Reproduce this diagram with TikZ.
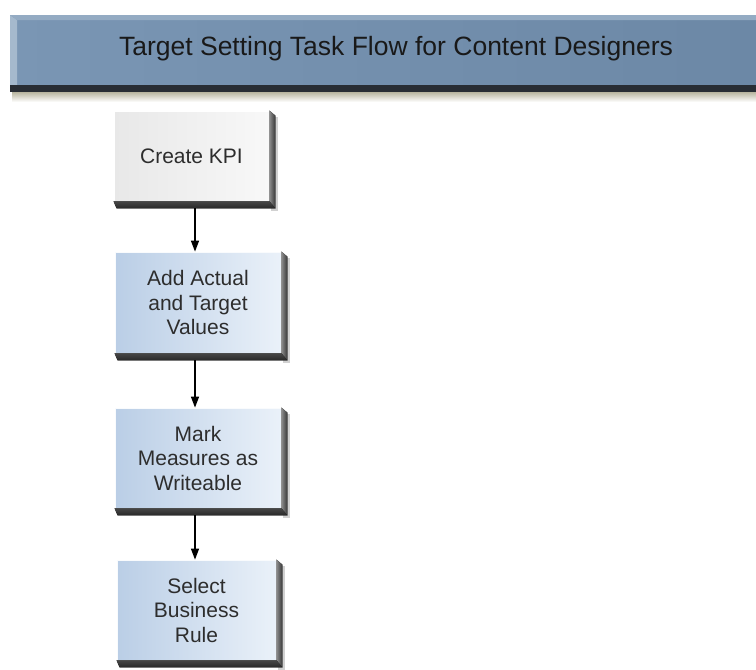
\documentclass[tikz,border=0pt]{standalone}
\usepackage{fontspec}
\setmainfont{Liberation Sans}
\usetikzlibrary{calc,arrows.meta}
\definecolor{bannerL}{RGB}{122,150,180}
\definecolor{bannerR}{RGB}{108,136,166}
\definecolor{bannerEdge}{RGB}{165,185,205}
\definecolor{bandDark}{RGB}{40,45,52}
\definecolor{shadowTan}{RGB}{170,166,140}
\definecolor{greyL}{RGB}{232,232,232}
\definecolor{greyR}{RGB}{248,248,248}
\definecolor{blueL}{RGB}{186,206,230}
\definecolor{blueR}{RGB}{234,241,249}
\definecolor{bevR1}{RGB}{140,140,140}
\definecolor{bevR2}{RGB}{55,55,55}
\definecolor{bevB1}{RGB}{70,70,70}
\definecolor{bevB2}{RGB}{40,40,40}
\definecolor{txt}{RGB}{45,45,45}
\tikzset{
  x=1pt, y=1pt,
  boxtext/.style={font=\fontsize{21}{24.5}\selectfont, text=txt, align=center, inner sep=0pt},
  greybox/.style={boxtext, rectangle, left color=greyL, right color=greyR, draw=white, line width=0.8pt},
  bluebox/.style={boxtext, rectangle, left color=blueL, right color=blueR, draw=white!70!blueR, line width=0.8pt},
  flowarrow/.style={draw=black, line width=1.4pt, -{Triangle[length=11pt,width=8pt]}}
}
\newcommand\bevelbox[1]{%
  \fill[black!18] ($(#1.north east)+(2,-6)$) rectangle ($(#1.south east)+(9,-10)$);
  \fill[left color=bevR1, right color=bevR2] (#1.north east) -- ++(6,-5) -- ($(#1.south east)+(6,-7)$) -- (#1.south east) -- cycle;
  \fill[top color=bevB1, bottom color=bevB2] (#1.south west) -- (#1.south east) -- ($(#1.south east)+(6,-7)$) -- ($(#1.south west)+(3,-7)$) -- cycle;
}
\begin{document}
\begin{tikzpicture}
\useasboundingbox (0,0) rectangle (756,-670);
% banner
\fill[top color=shadowTan, bottom color=white] (12,-90) rectangle (756,-102);
\fill[left color=bannerL, right color=bannerR] (10,-15) rectangle (756,-85);
\fill[bannerEdge] (10,-15) -- (17,-20) -- (17,-85) -- (10,-85) -- cycle;
\fill[bannerEdge!60!bannerL] (10,-15) -- (756,-15) -- (756,-20) -- (17,-20) -- cycle;
\fill[bandDark] (10,-85) rectangle (756,-92);
\node[font=\fontsize{26.5}{30}\selectfont, text=black!90, inner sep=0pt, anchor=base] (title) at (396,-55) {Target Setting Task Flow for Content Designers};
% boxes
\node[greybox, minimum width=155, minimum height=90] (b1) at (191.5,-156) {Create KPI};
\node[bluebox, minimum width=166, minimum height=101] (b2) at (198,-302.5) {Add Actual\\and Target\\Values};
\node[bluebox, minimum width=166, minimum height=100] (b3) at (198,-458) {Mark\\Measures as\\Writeable};
\node[bluebox, minimum width=159, minimum height=100] (b4) at (196.5,-610) {Select\\Business\\Rule};
\bevelbox{b1}
\bevelbox{b2}
\bevelbox{b3}
\bevelbox{b4}
% arrows
\coordinate (a1) at ($(b1.south)+(3.5,-7)$);
\coordinate (a2) at ($(b2.south)+(-3,-7)$);
\coordinate (a3) at ($(b3.south)+(-3,-7)$);
\draw[flowarrow] (a1) -- (a1 |- b2.north);
\draw[flowarrow] (a2) -- (a2 |- b3.north);
\draw[flowarrow] (a3) -- (a3 |- b4.north);
\end{tikzpicture}
\end{document}
